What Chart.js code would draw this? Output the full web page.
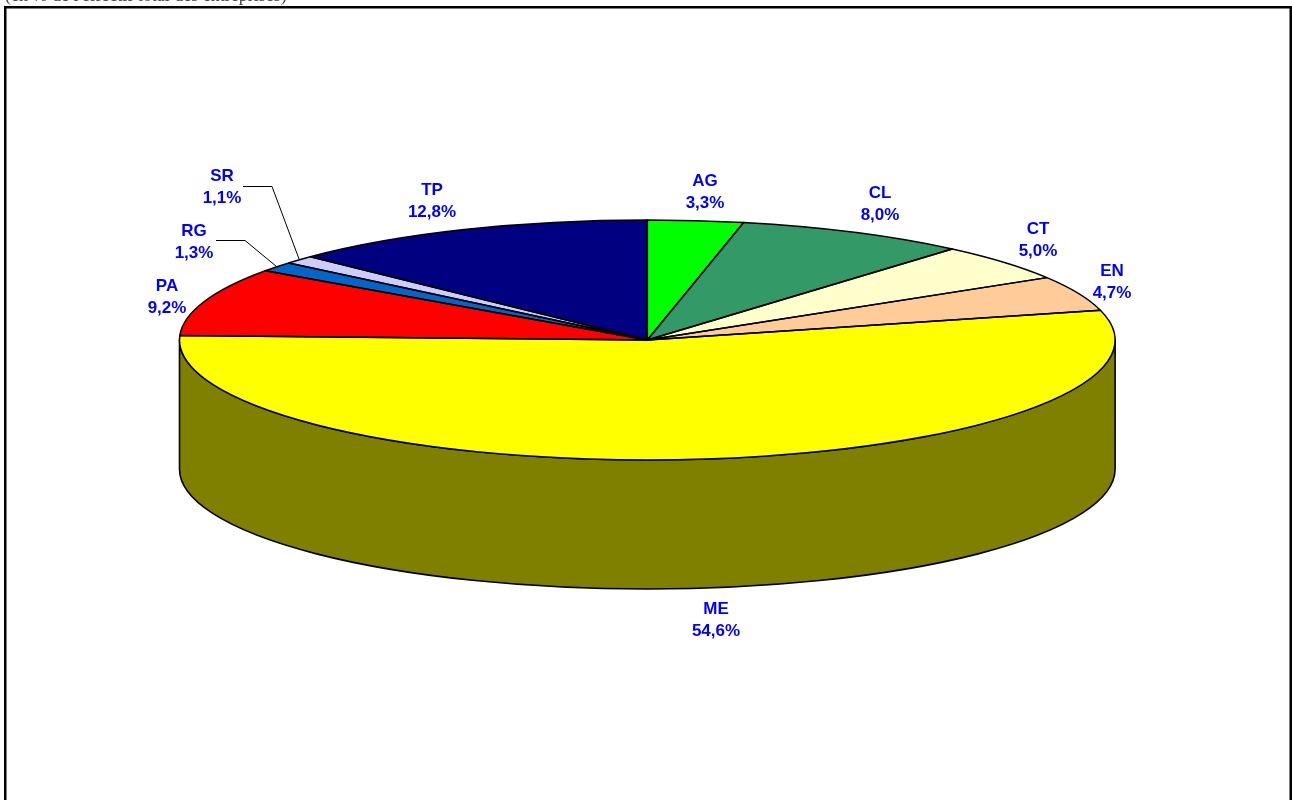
<!DOCTYPE html>
<html>
<head>
<meta charset="utf-8">
<script src="https://cdn.jsdelivr.net/npm/chart.js@4.4.1/dist/chart.umd.min.js"></script>
<style>
  html, body { margin: 0; padding: 0; background: #ffffff; overflow: hidden; }
  #c { display: block; }
</style>
</head>
<body>
<canvas id="c" width="1292" height="800"></canvas>
<script>
// ---------------- data ----------------
const categories = ['AG', 'CL', 'CT', 'EN', 'ME', 'PA', 'RG', 'SR', 'TP'];
const shares     = [3.3, 8.0, 5.0, 4.7, 54.6, 9.2, 1.3, 1.1, 12.8];
const sliceColors = ['#00FF00', '#339966', '#FFFFCC', '#FFCC99', '#FFFF00', '#FF0000', '#0066CC', '#CCCCFF', '#000080'];
const headerText = "(en % de l'effectif total des entreprises)";

// ---------------- layout ----------------
const PIE = { cx: 647.3, cy: 340, rx: 467.8, ry: 120, depth: 129 };
const LABEL_POS = {
  AG: [705, 180], CL: [880, 192], CT: [1038, 228], EN: [1112, 270],
  ME: [716, 608], PA: [167, 285], RG: [194, 230], SR: [222, 175], TP: [432, 189]
};
const LEADERS = { SR: [[243, 186], [272, 186]], RG: [[216, 240], [245, 240]] };

function fmtPct(v) { return v.toFixed(1).replace('.', ',') + '%'; }
function darken(hex) {
  const n = parseInt(hex.slice(1), 16);
  const r = ((n >> 16) & 255) >> 1, g = ((n >> 8) & 255) >> 1, b = (n & 255) >> 1;
  return 'rgb(' + r + ',' + g + ',' + b + ')';
}

const pie3d = {
  id: 'pie3d',
  beforeDraw(chart) {
    const ctx = chart.ctx;
    ctx.save();
    ctx.fillStyle = '#ffffff';
    ctx.fillRect(0, 0, chart.width, chart.height);
    // header text (mostly cut off at top)
    ctx.font = '18px "Liberation Serif", "Times New Roman", serif';
    ctx.fillStyle = '#444444';
    ctx.textBaseline = 'alphabetic';
    ctx.textAlign = 'left';
    ctx.fillText(headerText, 5, 0.5);
    // frame
    ctx.lineWidth = 2.5;
    ctx.strokeStyle = '#000000';
    ctx.strokeRect(5.25, 7.25, 1285.5, 900);
    ctx.restore();
  },
  beforeDatasetsDraw(chart) {
    const ctx = chart.ctx;
    const meta = chart.getDatasetMeta(0);
    const { cx, cy, rx, ry, depth } = PIE;
    // side walls (front half, canvas angle in [0, PI])
    meta.data.forEach((arc, i) => {
      const s = arc.startAngle, e = arc.endAngle;
      for (let k = -1; k <= 1; k++) {
        const lo = 2 * Math.PI * k, hi = lo + Math.PI;
        const a0 = Math.max(s, lo), a1 = Math.min(e, hi);
        if (a1 <= a0) continue;
        ctx.save();
        ctx.beginPath();
        ctx.ellipse(cx, cy, rx, ry, 0, a0, a1, false);
        ctx.ellipse(cx, cy + depth, rx, ry, 0, a1, a0, true);
        ctx.closePath();
        ctx.fillStyle = darken(sliceColors[i]);
        ctx.fill();
        ctx.lineWidth = 1.6;
        ctx.strokeStyle = '#000000';
        ctx.lineJoin = 'round';
        ctx.stroke();
        ctx.restore();
      }
    });
    // squash the library's circular pie into the ellipse of the top face
    const a = meta.data[0];
    const R = a.outerRadius;
    ctx.save();
    ctx.translate(cx, cy);
    ctx.scale(rx / R, ry / R);
    ctx.translate(-a.x, -a.y);
  },
  afterDatasetsDraw(chart) {
    const ctx = chart.ctx;
    ctx.restore();
    const meta = chart.getDatasetMeta(0);
    const { cx, cy, rx, ry } = PIE;
    ctx.save();
    ctx.lineWidth = 1.5;
    ctx.strokeStyle = '#000000';
    ctx.lineJoin = 'round';
    meta.data.forEach((arc) => {
      ctx.beginPath();
      ctx.moveTo(cx, cy);
      ctx.ellipse(cx, cy, rx, ry, 0, arc.startAngle, arc.endAngle, false);
      ctx.closePath();
      ctx.stroke();
    });
    // leader lines
    ctx.lineWidth = 1;
    meta.data.forEach((arc, i) => {
      const pts = LEADERS[categories[i]];
      if (!pts) return;
      const mid = (arc.startAngle + arc.endAngle) / 2;
      const ex = cx + rx * Math.cos(mid), ey = cy + ry * Math.sin(mid);
      ctx.beginPath();
      ctx.moveTo(pts[0][0], pts[0][1] + 0.5);
      ctx.lineTo(pts[1][0], pts[1][1] + 0.5);
      ctx.lineTo(ex, ey);
      ctx.stroke();
    });
    // labels
    ctx.font = 'bold 17px "Liberation Sans", Arial, sans-serif';
    ctx.fillStyle = '#0000FF';
    ctx.textAlign = 'center';
    ctx.textBaseline = 'alphabetic';
    categories.forEach((c, i) => {
      const p = LABEL_POS[c];
      ctx.fillText(c, p[0], p[1] + 6);
      ctx.fillText(fmtPct(shares[i]), p[0], p[1] + 28);
    });
    ctx.restore();
  }
};

new Chart(document.getElementById('c'), {
  type: 'pie',
  data: {
    labels: categories,
    datasets: [{
      data: shares,
      backgroundColor: sliceColors,
      borderWidth: 0,
      clip: false
    }]
  },
  options: {
    responsive: false,
    animation: false,
    events: [],
    layout: { padding: 0 },
    plugins: { legend: { display: false }, tooltip: { enabled: false } }
  },
  plugins: [pie3d]
});
</script>
</body>
</html>
